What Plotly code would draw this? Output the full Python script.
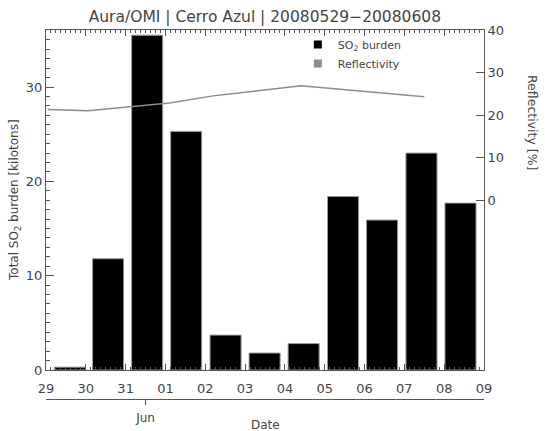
import plotly.graph_objects as go

# ---- data ----
bar_times = ["2008-05-29 14:24", "2008-05-30 13:26", "2008-05-31 12:58", "2008-06-01 12:29",
             "2008-06-02 12:14", "2008-06-03 11:46", "2008-06-04 11:17", "2008-06-05 11:02",
             "2008-06-06 10:34", "2008-06-07 10:19", "2008-06-08 09:50"]
so2_burden = [0.3, 11.8, 35.5, 25.3, 3.7, 1.8, 2.8, 18.4, 15.9, 23.0, 17.7]

refl_times = ["2008-05-29 01:12", "2008-05-30 01:12", "2008-06-01 02:24",
              "2008-06-02 04:48", "2008-06-04 09:36", "2008-06-07 12:00"]
reflectivity = [21.3, 21.0, 22.8, 24.5, 26.9, 24.3]

month_tick = ["2008-05-31 12:00"]
month_label = ["Jun"]

DAY_MS = 86400000
FONT = "DejaVu Sans"
TXT = "#444444"
AX = "#555555"

fig = go.Figure()
fig.add_trace(go.Bar(x=bar_times, y=so2_burden, width=0.78 * DAY_MS,
                     marker=dict(color="black", line=dict(color="#9a9a9a", width=1)),
                     showlegend=False, name="SO2"))
fig.add_trace(go.Scatter(x=refl_times, y=reflectivity, yaxis="y2", mode="lines",
                         line=dict(color="#8c8c8c", width=1.5), showlegend=False,
                         name="Reflectivity"))
# legend entries (square symbols), placed on the month axis so that it is drawn
fig.add_trace(go.Scatter(x=[None], y=[None], xaxis="x2", mode="markers",
                         name="SO<sub>2</sub> burden",
                         marker=dict(symbol="square", size=8, color="black")))
fig.add_trace(go.Scatter(x=[None], y=[None], xaxis="x2", mode="markers",
                         name="Reflectivity",
                         marker=dict(symbol="square", size=8, color="#8c8c8c")))

xrange = ["2008-05-29", "2008-06-09"]
fig.update_layout(
    width=545, height=431,
    margin=dict(l=46, r=61, t=30, b=32, autoexpand=False),
    paper_bgcolor="white", plot_bgcolor="white",
    font=dict(family=FONT, size=13, color=TXT),
    barmode="overlay",
    title=dict(text="Aura/OMI | Cerro Azul | 20080529\u221220080608",
               x=0.486, xanchor="center", y=1 - 17 / 431, yanchor="middle",
               font=dict(family=FONT, size=15.5, color=TXT)),
    xaxis=dict(type="date", range=xrange, domain=[0, 1], anchor="y", automargin=False,
               tick0="2008-05-29", dtick=DAY_MS, tickformat="%d",
               ticks="inside", ticklen=6, tickcolor=AX, tickwidth=1,
               showline=True, linecolor=AX, linewidth=1, mirror="ticks",
               showgrid=False, zeroline=False, ticklabelstandoff=6,
               tickfont=dict(size=13, color=TXT),
               minor=dict(ticks="inside", ticklen=3, dtick=3 * 3600000,
                          tickcolor=AX, showgrid=False)),
    xaxis2=dict(type="date", range=xrange, overlaying="x", anchor="free", position=0,
                side="bottom", tickvals=month_tick, ticktext=month_label, automargin=False,
                ticks="outside", ticklen=5, tickcolor=AX, ticklabelstandoff=3,
                showline=True, linecolor=AX, linewidth=1, showgrid=False, zeroline=False,
                tickfont=dict(size=12, color=TXT)),
    yaxis=dict(range=[0, 36.05], domain=[29 / 369, 1], tick0=0, dtick=10, automargin=False,
               ticks="inside", ticklen=8, tickcolor=AX,
               showline=True, linecolor=AX, linewidth=1,
               showgrid=False, zeroline=False, ticklabelstandoff=0,
               tickfont=dict(size=13, color=TXT),
               minor=dict(ticks="inside", ticklen=4, dtick=1, tickcolor=AX, showgrid=False)),
    yaxis2=dict(range=[-40, 40], overlaying="y", side="right", anchor="x", automargin=False,
                tickvals=[0, 10, 20, 30, 40],
                ticks="inside", ticklen=8, tickcolor=AX,
                showline=True, linecolor=AX, linewidth=1,
                showgrid=False, zeroline=False, ticklabelstandoff=0,
                tickfont=dict(size=13, color=TXT)),
    legend=dict(x=0.575, xanchor="left", y=1.0, yanchor="top",
                bgcolor="rgba(0,0,0,0)", font=dict(size=11, color=TXT),
                tracegroupgap=0, itemwidth=30),
    annotations=[
        dict(text="Total SO<sub>2</sub> burden [kilotons]", xref="paper", yref="paper",
             x=(15 - 46) / 438, y=(399 - 200) / 369, textangle=-90,
             xanchor="center", yanchor="middle", showarrow=False,
             font=dict(size=12, color=TXT)),
        dict(text="Date", xref="paper", yref="paper", x=0.5, y=-26 / 369,
             xanchor="center", yanchor="middle", showarrow=False,
             font=dict(size=12, color=TXT)),
        dict(text="Reflectivity [%]", xref="paper", yref="paper",
             x=(533 - 46) / 438, y=(399 - 122) / 369, textangle=90,
             xanchor="center", yanchor="middle", showarrow=False,
             font=dict(size=12.5, color=TXT)),
    ],
)

fig.write_html("out.html", config={"displayModeBar": False},
               post_script="document.body.style.margin='0';document.body.style.overflow='hidden';")
